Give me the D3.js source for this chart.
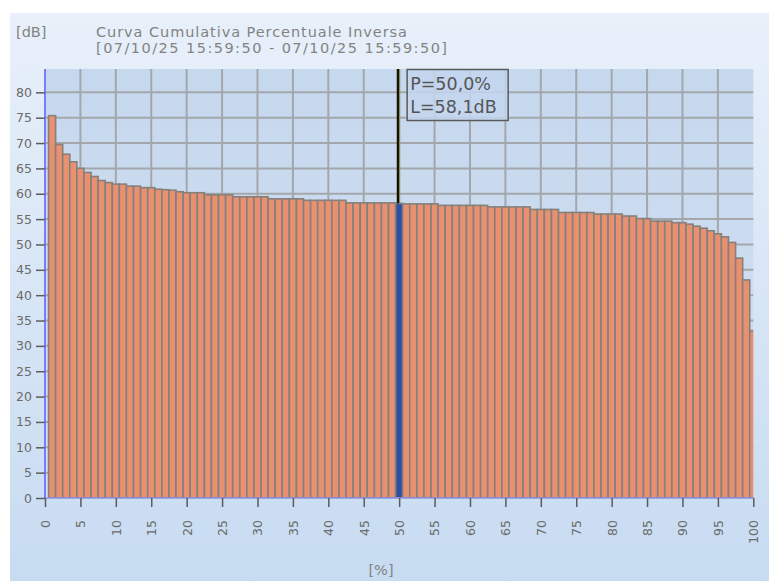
<!DOCTYPE html>
<html>
<head>
<meta charset="utf-8">
<script src="https://cdn.jsdelivr.net/npm/d3@7"></script>
<style>
  html, body { margin: 0; padding: 0; background: #fff; overflow: hidden; }
  text { font-family: "DejaVu Sans", Verdana, sans-serif; }
</style>
</head>
<body>
<div id="chart"></div>
<script>
// chart texts
var titleLines = ["Curva Cumulativa Percentuale Inversa", "[07/10/25 15:59:50 - 07/10/25 15:59:50]"];
var yUnit = "[dB]";
var xUnit = "[%]";

// ticks
var yTicks = [0, 5, 10, 15, 20, 25, 30, 35, 40, 45, 50, 55, 60, 65, 70, 75, 80];
var xTicks = [0, 5, 10, 15, 20, 25, 30, 35, 40, 45, 50, 55, 60, 65, 70, 75, 80, 85, 90, 95, 100];

// level (dB) exceeded for 1..100 %
var levels = [
  75.4, 69.7, 67.8, 66.3, 65.0, 64.2, 63.4, 62.6, 62.2, 61.9,
  61.9, 61.5, 61.5, 61.2, 61.2, 60.9, 60.8, 60.7, 60.4, 60.2,
  60.2, 60.2, 59.8, 59.8, 59.8, 59.8, 59.4, 59.4, 59.4, 59.4,
  59.4, 59.0, 59.0, 59.0, 59.0, 59.0, 58.7, 58.7, 58.7, 58.7,
  58.7, 58.7, 58.2, 58.2, 58.2, 58.2, 58.2, 58.2, 58.2, 58.1,
  58.0, 58.0, 58.0, 58.0, 58.0, 57.7, 57.7, 57.7, 57.7, 57.7,
  57.7, 57.7, 57.4, 57.4, 57.4, 57.4, 57.4, 57.4, 56.9, 56.9,
  56.9, 56.9, 56.3, 56.3, 56.3, 56.3, 56.3, 56.0, 56.0, 56.0,
  56.0, 55.6, 55.6, 55.1, 55.1, 54.6, 54.6, 54.6, 54.3, 54.3,
  54.0, 53.6, 53.2, 52.7, 52.1, 51.5, 50.4, 47.3, 43.0, 33.0
];

// cursor
var cursorP = 50;
var cursorLines = ["P=50,0%", "L=58,1dB"];

(function() {
    var W = 769, H = 581;
    var pLeft = 45, pRight = 753.3, pTop = 69, pBottom = 498;

    var svg = d3.select("#chart").append("svg")
        .attr("width", W)
        .attr("height", H);

    var defs = svg.append("defs");
    var panelGrad = defs.append("linearGradient").attr("id", "panelGrad")
        .attr("x1", 0).attr("y1", 0).attr("x2", 0).attr("y2", 1);
    panelGrad.append("stop").attr("offset", "0%").attr("stop-color", "#e8f0fa");
    panelGrad.append("stop").attr("offset", "100%").attr("stop-color", "#c7dbf1");

    var plotGrad = defs.append("linearGradient").attr("id", "plotGrad")
        .attr("x1", 0).attr("y1", 0).attr("x2", 0).attr("y2", 1);
    plotGrad.append("stop").attr("offset", "0%").attr("stop-color", "#c6d8ee");
    plotGrad.append("stop").attr("offset", "100%").attr("stop-color", "#d3e2f3");

    defs.append("clipPath").attr("id", "plotClip")
      .append("rect")
        .attr("x", pLeft).attr("y", pTop)
        .attr("width", pRight - pLeft).attr("height", pBottom - pTop);

    // panel
    svg.append("rect")
        .attr("x", 10).attr("y", 13)
        .attr("width", W - 10).attr("height", H - 13)
        .style("fill", "url(#panelGrad)");

    var x = d3.scaleLinear().domain([0, 100]).range([pLeft, pRight]);
    var y = d3.scaleLinear().domain([0, 84.6]).range([pBottom, pTop]);
    var barW = x(1) - x(0);

    // plot area
    svg.append("rect")
        .attr("x", pLeft).attr("y", pTop)
        .attr("width", pRight - pLeft).attr("height", pBottom - pTop)
        .style("fill", "url(#plotGrad)");

    // grid
    svg.append("g").selectAll("line")
        .data(yTicks.filter(function(d) { return d > 0; }))
        .enter().append("line")
        .attr("x1", pLeft).attr("x2", pRight)
        .attr("y1", function(d) { return y(d); })
        .attr("y2", function(d) { return y(d); })
        .style("stroke", "#a3a7ab")
        .style("stroke-width", 2);

    svg.append("g").selectAll("line")
        .data(xTicks.filter(function(d) { return d > 0 && d < 100; }))
        .enter().append("line")
        .attr("x1", function(d) { return x(d); })
        .attr("x2", function(d) { return x(d); })
        .attr("y1", pTop).attr("y2", pBottom)
        .style("stroke", "#a3a7ab")
        .style("stroke-width", 2);

    // bars
    svg.append("g")
        .attr("clip-path", "url(#plotClip)")
      .selectAll("rect")
        .data(levels)
        .enter().append("rect")
        .attr("x", function(d, i) { return x(i + 1) - barW / 2; })
        .attr("width", barW)
        .attr("y", function(d) { return y(d); })
        .attr("height", function(d) { return pBottom - y(d); })
        .style("fill", function(d, i) { return (i + 1) === cursorP ? "#2e4f9e" : "#e8906f"; })
        .style("stroke", "#85807c")
        .style("stroke-width", 1.6);

    // cursor line
    svg.append("line")
        .attr("x1", x(cursorP) - 1.2).attr("x2", x(cursorP) - 1.2)
        .attr("y1", pTop).attr("y2", y(levels[cursorP - 1]))
        .style("stroke", "#111")
        .style("stroke-width", 2.4);
    svg.append("line")
        .attr("x1", x(cursorP) + 0.5).attr("x2", x(cursorP) + 0.5)
        .attr("y1", pTop).attr("y2", y(levels[cursorP - 1]))
        .style("stroke", "#8c8c3c")
        .style("stroke-width", 1);

    // axes lines
    svg.append("line")
        .attr("x1", pLeft).attr("x2", pRight)
        .attr("y1", pBottom).attr("y2", pBottom)
        .style("stroke", "#8e8fe6")
        .style("stroke-width", 1.6);
    svg.append("line")
        .attr("x1", pLeft).attr("x2", pLeft)
        .attr("y1", pTop).attr("y2", pBottom + 1)
        .style("stroke", "#7b7bff")
        .style("stroke-width", 2);

    // y axis
    var yAxis = svg.append("g")
        .attr("transform", "translate(" + pLeft + ",0)")
        .call(d3.axisLeft(y).tickValues(yTicks).tickSize(9).tickPadding(4));
    yAxis.select(".domain").remove();
    yAxis.selectAll(".tick line").style("stroke", "#5c5c5c").style("stroke-width", 1.5);
    yAxis.selectAll(".tick text")
        .style("font-size", "12.5px")
        .style("fill", "#6a6a6a")
        .style("font-family", "DejaVu Sans, sans-serif");

    // x axis
    var xAxis = svg.append("g")
        .attr("transform", "translate(0," + pBottom + ")")
        .call(d3.axisBottom(x).tickValues(xTicks).tickSize(9));
    xAxis.select(".domain").remove();
    xAxis.selectAll(".tick line").style("stroke", "#5c5c5c").style("stroke-width", 1.5);
    xAxis.selectAll(".tick text")
        .attr("transform", "translate(0,22) rotate(-90)")
        .attr("x", 0).attr("y", 0).attr("dy", "0.35em")
        .style("text-anchor", "end")
        .style("font-size", "12.5px")
        .style("fill", "#6a6a6a")
        .style("font-family", "DejaVu Sans, sans-serif");

    // titles
    var titleWidths = [311, 351];
    svg.append("text")
        .attr("x", 16).attr("y", 37)
        .style("font-size", "14.5px").style("fill", "#838383")
        .text(yUnit);
    svg.selectAll(".title").data(titleLines).enter().append("text")
        .attr("class", "title")
        .attr("x", 96)
        .attr("y", function(d, i) { return 37 + i * 16; })
        .attr("textLength", function(d, i) { return titleWidths[i]; })
        .attr("lengthAdjust", "spacing")
        .style("font-size", "14.5px").style("fill", "#838383")
        .text(function(d) { return d; });
    svg.append("text")
        .attr("x", 381).attr("y", 575)
        .style("text-anchor", "middle")
        .style("font-size", "14.5px").style("fill", "#838383")
        .text(xUnit);

    // cursor label
    var lab = svg.append("g").attr("transform", "translate(" + (x(cursorP) + 8) + "," + pTop + ")");
    lab.append("rect")
        .attr("x", 0).attr("y", 0.5)
        .attr("width", 101).attr("height", 51)
        .style("fill", "#c3d6ee")
        .style("fill-opacity", 0.85)
        .style("stroke", "#5a5a5a")
        .style("stroke-width", 1.5);
    lab.selectAll("text").data(cursorLines).enter().append("text")
        .attr("x", 3)
        .attr("y", function(d, i) { return 21 + i * 22.7; })
        .style("font-size", "17.5px").style("fill", "#555")
        .text(function(d) { return d; });
})();
</script>
</body>
</html>
